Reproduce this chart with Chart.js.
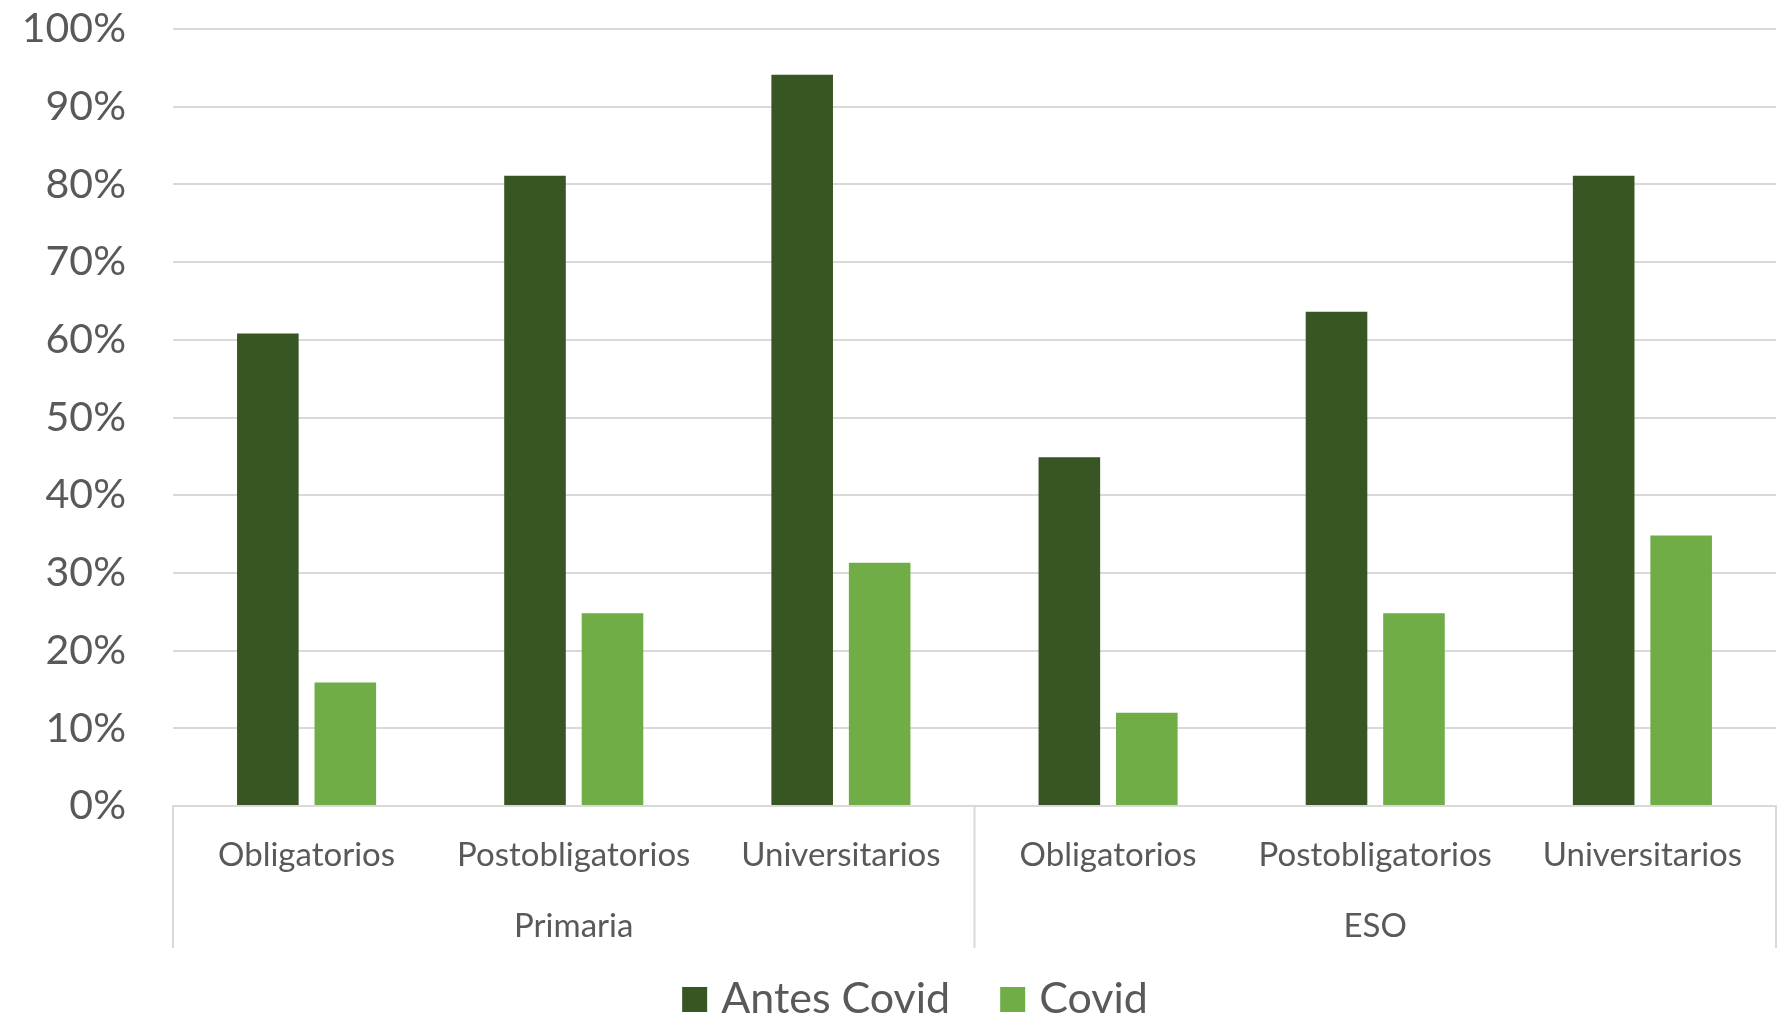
<!DOCTYPE html>
<html>
<head>
<meta charset="utf-8">
<script src="https://cdn.jsdelivr.net/npm/chart.js@4"></script>
<style>
  html, body { margin: 0; padding: 0; background: #fff; }
</style>
</head>
<body>
<canvas id="grafico" width="1790" height="1018"></canvas>
<script>
const categorias = ['Obligatorios', 'Postobligatorios', 'Universitarios', 'Obligatorios', 'Postobligatorios', 'Universitarios'];
const grupos = ['Primaria', 'ESO'];
const antesCovid = [60.8, 81.1, 94.1, 44.9, 63.6, 81.1];
const covid = [15.9, 24.8, 31.3, 12.0, 24.8, 34.8];

const gris = '#d9d9d9';
const texto = '#595959';

// lineas verticales que separan los grupos (Primaria / ESO)
const separadores = {
  id: 'separadores',
  afterDraw(chart) {
    const ctx = chart.ctx;
    const x = chart.scales.x;
    const x2 = chart.scales.x2;
    const area = chart.chartArea;
    const medio = (x.getPixelForValue(2) + x.getPixelForValue(3)) / 2;
    ctx.save();
    ctx.strokeStyle = gris;
    ctx.lineWidth = 2;
    [area.left, medio, area.right].forEach(px => {
      ctx.beginPath();
      ctx.moveTo(px, area.bottom);
      ctx.lineTo(px, x2.bottom);
      ctx.stroke();
    });
    ctx.restore();
  }
};

// leyenda dibujada a mano para controlar los espacios
const leyenda = {
  id: 'leyenda',
  afterDraw(chart) {
    const ctx = chart.ctx;
    const caja = 25, hueco = 14, sep = 50;
    ctx.save();
    ctx.font = '43px Lato';
    ctx.textBaseline = 'alphabetic';
    const items = chart.data.datasets.map(d => ({ txt: d.label, color: d.backgroundColor, w: ctx.measureText(d.label).width }));
    const total = items.reduce((s, it) => s + caja + hueco + it.w, 0) + sep * (items.length - 1);
    let px = chart.width / 2 + 20 - total / 2;
    const base = chart.scales.x2.bottom + 65;
    items.forEach(it => {
      ctx.fillStyle = it.color;
      ctx.fillRect(px, base - 26, caja, caja);
      ctx.fillStyle = texto;
      ctx.fillText(it.txt, px + caja + hueco, base);
      px += caja + hueco + it.w + sep;
    });
    ctx.restore();
  }
};

new Chart(document.getElementById('grafico'), {
  type: 'bar',
  data: {
    labels: categorias,
    datasets: [
      { label: 'Antes Covid', data: antesCovid, backgroundColor: '#375623' },
      { label: 'Covid', data: covid, backgroundColor: '#70ad47' }
    ]
  },
  options: {
    responsive: false,
    devicePixelRatio: 1,
    animation: false,
    categoryPercentage: 0.58,
    barPercentage: 0.795,
    layout: { padding: { top: 29, right: 14, left: 0, bottom: 70 } },
    plugins: {
      tooltip: { enabled: false },
      legend: { display: false }
    },
    scales: {
      x: {
        grid: { display: false },
        border: { color: gris, width: 2 },
        ticks: { font: { family: 'Lato', size: 33 }, color: texto, padding: 22, maxRotation: 0, autoSkip: false },
        afterFit(s) { s.height = 80; }
      },
      x2: {
        type: 'category',
        labels: grupos,
        position: 'bottom',
        offset: true,
        grid: { display: false },
        border: { display: false },
        ticks: { font: { family: 'Lato', size: 33 }, color: texto, padding: 13 },
        afterFit(s) { s.height = 62; }
      },
      y: {
        min: 0,
        max: 100,
        ticks: {
          stepSize: 10,
          font: { family: 'Lato', size: 41 },
          color: texto,
          padding: 0,
          callback: v => v + '%'
        },
        grid: { color: gris, lineWidth: 2, drawTicks: true, tickLength: 47, tickColor: 'rgba(0,0,0,0)' },
        border: { display: false },
        afterFit(s) { s.width = 173; }
      }
    }
  },
  plugins: [separadores, leyenda]
});
</script>
</body>
</html>
